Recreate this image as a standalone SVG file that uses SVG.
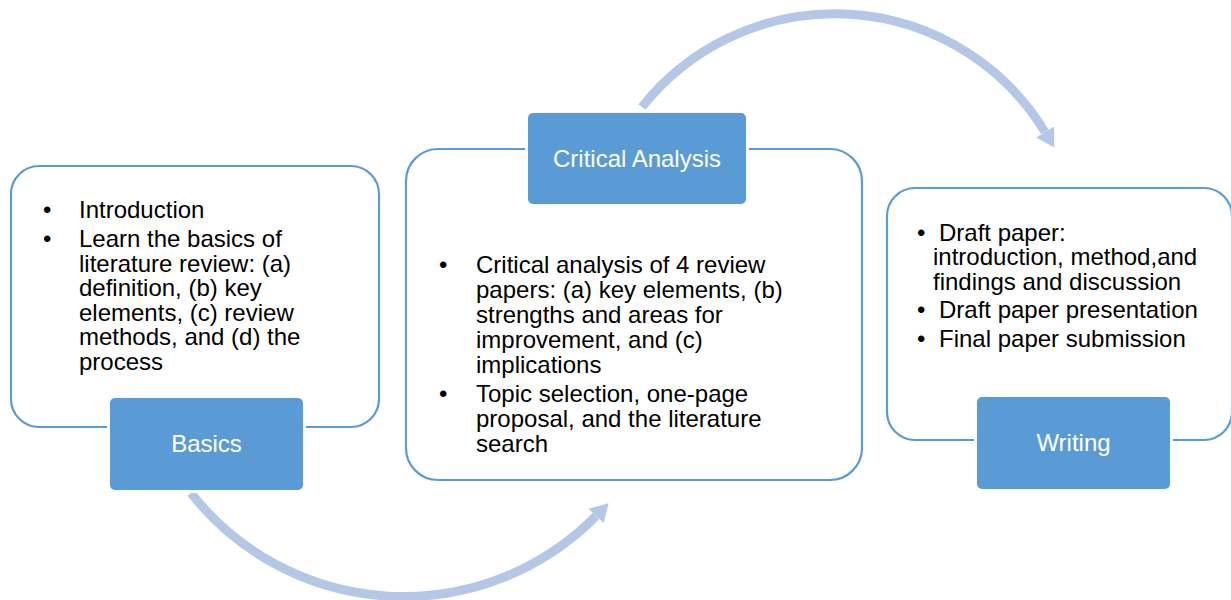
<svg xmlns="http://www.w3.org/2000/svg" width="1231" height="600" viewBox="0 0 1231 600">
<defs>
<style>
.container{fill:#fff;stroke:#5B9BD5;stroke-width:2.2}
.label{fill:#5B9BD5;stroke:#fff;stroke-width:6;paint-order:stroke}
.ltext{font-family:"Liberation Sans",Arial,sans-serif;font-size:24px;fill:#fff;text-anchor:middle}
.body{font-family:"Liberation Sans",Arial,sans-serif;font-size:24px;fill:#000}
.arc{fill:none;stroke:#B4C7E7;stroke-width:9}
</style>
<marker id="ah" markerUnits="userSpaceOnUse" markerWidth="20" markerHeight="24" refX="0" refY="12" orient="auto" viewBox="0 0 20 24">
<path d="M0,1.5 L18,12 L0,22.5 Z" fill="#B4C7E7"/>
</marker>
</defs>
<rect width="1231" height="600" fill="#fff"/>
<g id="connectors">
<path class="arc" d="M191,493 A270,270 0 0 0 596,516" marker-end="url(#ah)"/>
<path class="arc" d="M642,107 A246,246 0 0 1 1045,132" marker-end="url(#ah)"/>
</g>
<g id="basics">
<rect class="container" x="11" y="166" width="368" height="261" rx="28"/>
<text class="body" x="43" y="218.3">•</text>
<text class="body" x="79" y="218.3">Introduction</text>
<text class="body" x="43" y="247.3">•</text>
<text class="body" x="79" y="247.3">Learn the basics of</text>
<text class="body" x="79" y="271.8">literature review: (a)</text>
<text class="body" x="79" y="296.3">definition, (b) key</text>
<text class="body" x="79" y="320.8">elements, (c) review</text>
<text class="body" x="79" y="345.3">methods, and (d) the</text>
<text class="body" x="79" y="369.8">process</text>
<rect class="label" x="110" y="398" width="193" height="92" rx="5"/>
<text class="ltext" x="206.5" y="451.7">Basics</text>
</g>
<g id="critical-analysis">
<rect class="container" x="406" y="149" width="456" height="331" rx="32"/>
<text class="body" x="439" y="273.3">•</text>
<text class="body" x="476" y="273.3">Critical analysis of 4 review</text>
<text class="body" x="476" y="298.3">papers: (a) key elements, (b)</text>
<text class="body" x="476" y="323.3">strengths and areas for</text>
<text class="body" x="476" y="348.3">improvement, and (c)</text>
<text class="body" x="476" y="373.3">implications</text>
<text class="body" x="439" y="401.7">•</text>
<text class="body" x="476" y="401.7">Topic selection, one-page</text>
<text class="body" x="476" y="426.7">proposal, and the literature</text>
<text class="body" x="476" y="451.7">search</text>
<rect class="label" x="528" y="113" width="218" height="91" rx="5"/>
<text class="ltext" x="637" y="167.3">Critical Analysis</text>
</g>
<g id="writing">
<rect class="container" x="887" y="188" width="345" height="252" rx="28"/>
<text class="body" x="917" y="240.6">•</text>
<text class="body" x="939" y="240.6">Draft paper:</text>
<text class="body" x="933" y="265.2">introduction, method,and</text>
<text class="body" x="933" y="289.6">findings and discussion</text>
<text class="body" x="917" y="318.3">•</text>
<text class="body" x="939" y="318.3">Draft paper presentation</text>
<text class="body" x="917" y="346.7">•</text>
<text class="body" x="939" y="346.7">Final paper submission</text>
<rect class="label" x="977" y="397" width="193" height="92" rx="5"/>
<text class="ltext" x="1073.5" y="450.7">Writing</text>
</g>
</svg>
